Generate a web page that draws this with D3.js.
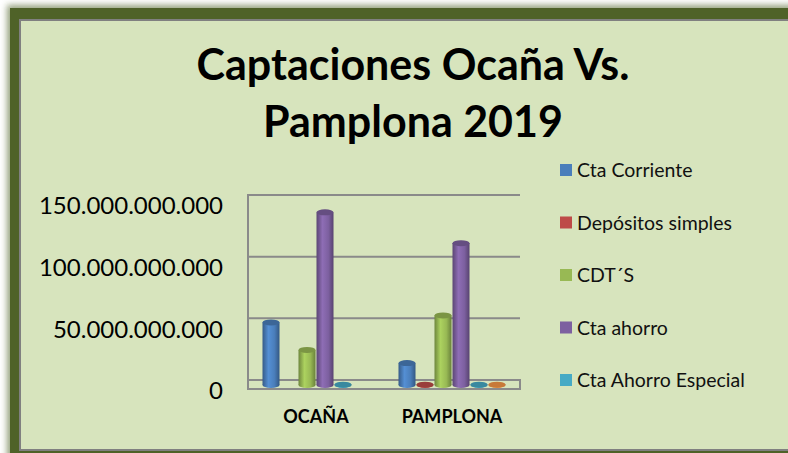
<!DOCTYPE html>
<html>
<head>
<meta charset="utf-8">
<script src="https://cdn.jsdelivr.net/npm/d3@7"></script>
<style>
  body { margin: 0; background: #fff; }
  svg { display: block; font-family: Lato, "Liberation Sans", sans-serif; }
</style>
</head>
<body>
<svg id="chart" width="788" height="453"></svg>
<script>
// data (values in pesos)
var categories = ["OCAÑA", "PAMPLONA"];
var seriesNames = ["Cta Corriente", "Depósitos simples", "CDT´S", "Cta ahorro", "Cta Ahorro Especial", "Otros"];
var ctaCorriente = [50.7e9, 17.8e9];
var depositos = [0, 0.3e9];
var cdts = [28.4e9, 56.4e9];
var ctaAhorro = [140e9, 115e9];
var ctaEspecial = [0.3e9, 0.3e9];
var otros = [0, 0.3e9]; // 6th series, its legend entry is cut off in the original
var seriesColors = ["#4a7ebb", "#be4b48", "#98b954", "#7d60a0", "#46aac5", "#f79646"];
var yTicks = [0, 50e9, 100e9, 150e9];
var titleLines = ["Captaciones Ocaña Vs.", "Pamplona 2019"];
var legendCount = 5;

var values = [ctaCorriente, depositos, cdts, ctaAhorro, ctaEspecial, otros];

var svg = d3.select("#chart");
var defs = svg.append("defs");

// frame with soft shadow
var blur = defs.append("filter").attr("id", "blur")
  .attr("x", "-10%").attr("y", "-10%").attr("width", "120%").attr("height", "120%");
blur.append("feGaussianBlur").attr("stdDeviation", 3);

svg.append("rect")
  .attr("x", 7).attr("y", 5).attr("width", 820).attr("height", 470)
  .attr("fill", "#4f6228").attr("opacity", 0.6)
  .attr("filter", "url(#blur)");
svg.append("rect")
  .attr("x", 10).attr("y", 8).attr("width", 820).attr("height", 470)
  .attr("fill", "#4f6228");
svg.append("rect")
  .attr("x", 20).attr("y", 20).attr("width", 800).attr("height", 430)
  .attr("fill", "#d7e4bd")
  .attr("stroke", "#808080").attr("stroke-width", 2);

// title
svg.append("g").selectAll("text")
  .data(titleLines)
  .join("text")
  .attr("x", 413)
  .attr("y", (d, i) => 80 + i * 57)
  .attr("text-anchor", "middle")
  .style("font-weight", "bold")
  .style("font-size", "43px")
  .attr("fill", "#000")
  .text(d => d);

// scales
var x0 = d3.scaleBand().domain(categories).range([248, 520]);
var x1 = d3.scaleBand().domain(seriesNames).range([14, 122]);
var y = d3.scaleLinear().domain([0, 150e9]).range([385, 200]);

var locale = d3.formatLocale({ decimal: ",", thousands: ".", grouping: [3], currency: ["$", ""] });
var fmt = locale.format(",");

// back wall gridlines
var grid = svg.append("g").attr("stroke", "#8a8a8a").attr("stroke-width", 2);
grid.selectAll("line.h")
  .data(yTicks.slice(1))
  .join("line")
  .attr("class", "h")
  .attr("x1", 248).attr("x2", 520)
  .attr("y1", d => y(d) - 5).attr("y2", d => y(d) - 5);
grid.append("line")
  .attr("x1", 248).attr("x2", 248)
  .attr("y1", y(150e9) - 6).attr("y2", y(0) + 4);
// floor
grid.append("rect")
  .attr("x", 248).attr("y", y(0) - 5)
  .attr("width", 272).attr("height", 9)
  .attr("fill", "none");

// y axis labels (front plane)
var yAxis = svg.append("g")
  .attr("transform", "translate(223,6)")
  .call(d3.axisLeft(y).tickValues(yTicks).tickFormat(fmt).tickSize(0).tickPadding(0));
yAxis.select(".domain").remove();
yAxis.selectAll("text")
  .style("font-family", "Lato, sans-serif")
  .style("font-size", "24px")
  .attr("fill", "#000");

// x labels
svg.append("g").selectAll("text")
  .data(categories)
  .join("text")
  .attr("x", d => x0(d) + x0.bandwidth() / 2)
  .attr("y", 423)
  .attr("text-anchor", "middle")
  .style("font-weight", "bold")
  .style("font-size", "18px")
  .text(d => d);

// cylinder gradients
seriesColors.forEach(function(c, i) {
  var base = d3.color(c);
  var g = defs.append("linearGradient").attr("id", "cyl" + i)
    .attr("x1", "0%").attr("x2", "100%").attr("y1", "0%").attr("y2", "0%");
  g.append("stop").attr("offset", "0%").attr("stop-color", base.darker(0.9));
  g.append("stop").attr("offset", "35%").attr("stop-color", base.brighter(0.35));
  g.append("stop").attr("offset", "70%").attr("stop-color", base);
  g.append("stop").attr("offset", "100%").attr("stop-color", base.darker(1));
});

var w = x1.bandwidth() - 1;
var ry = 3;

var bars = svg.append("g").selectAll("g")
  .data(values)
  .join("g");

bars.each(function(vals, si) {
  var g = d3.select(this);
  var data = vals.map((v, ci) => ({ cat: categories[ci], v: v })).filter(d => d.v > 0);
  var cx = d => x0(d.cat) + x1(seriesNames[si]) + 0.5;
  g.selectAll("ellipse.bot")
    .data(data)
    .join("ellipse")
    .attr("class", "bot")
    .attr("cx", d => cx(d) + w / 2)
    .attr("cy", y(0))
    .attr("rx", w / 2).attr("ry", ry)
    .attr("fill", "url(#cyl" + si + ")");
  g.selectAll("rect")
    .data(data)
    .join("rect")
    .attr("x", cx)
    .attr("y", d => y(d.v))
    .attr("width", w)
    .attr("height", d => y(0) - y(d.v))
    .attr("fill", "url(#cyl" + si + ")");
  g.selectAll("ellipse.top")
    .data(data)
    .join("ellipse")
    .attr("class", "top")
    .attr("cx", d => cx(d) + w / 2)
    .attr("cy", d => y(d.v))
    .attr("rx", w / 2).attr("ry", ry)
    .attr("fill", d3.color(seriesColors[si]).darker(0.6));
});

// legend
var legend = svg.append("g").selectAll("g")
  .data(seriesNames.slice(0, legendCount))
  .join("g")
  .attr("transform", (d, i) => "translate(560," + (170 + i * 52.5) + ")");
legend.append("rect")
  .attr("x", 0).attr("y", -6)
  .attr("width", 12).attr("height", 12)
  .attr("fill", (d, i) => seriesColors[i]);
legend.append("text")
  .attr("x", 17)
  .attr("dy", "0.36em")
  .style("font-size", "19.5px")
  .attr("fill", "#111")
  .text(d => d);
</script>
</body>
</html>
